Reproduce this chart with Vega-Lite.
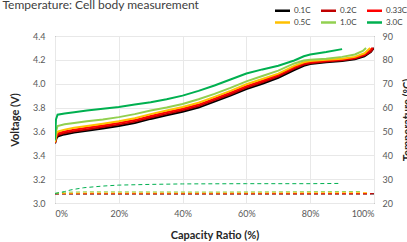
{
  "$schema": "https://vega.github.io/schema/vega-lite/v6.json",
  "width": 319,
  "height": 167,
  "autosize": "none",
  "padding": {"left": 55, "top": 36, "right": 33, "bottom": 39},
  "config": {
    "font": "Lato",
    "view": {"stroke": "#404040", "strokeWidth": 1},
    "axis": {"labelFont": "Lato", "labelFontSize": 9, "labelColor": "#595959", "titleFont": "Lato", "titleFontSize": 11, "titleFontWeight": "bold", "titleColor": "#262626", "ticks": false, "domain": false, "gridColor": "#e8e8e8"}
  },
  "datasets": {
    "volt": [
      {"r":"0.1C","c":0,"v":3.50},{"r":"0.1C","c":0.5,"v":3.545},{"r":"0.1C","c":1,"v":3.56},{"r":"0.1C","c":3,"v":3.575},{"r":"0.1C","c":6,"v":3.59},{"r":"0.1C","c":10,"v":3.605},{"r":"0.1C","c":15,"v":3.625},{"r":"0.1C","c":20,"v":3.645},{"r":"0.1C","c":25,"v":3.67},{"r":"0.1C","c":30,"v":3.705},{"r":"0.1C","c":35,"v":3.735},{"r":"0.1C","c":40,"v":3.765},{"r":"0.1C","c":45,"v":3.80},{"r":"0.1C","c":50,"v":3.85},{"r":"0.1C","c":55,"v":3.90},{"r":"0.1C","c":60,"v":3.955},{"r":"0.1C","c":65,"v":4.00},{"r":"0.1C","c":70,"v":4.05},{"r":"0.1C","c":75,"v":4.115},{"r":"0.1C","c":78,"v":4.15},{"r":"0.1C","c":80,"v":4.165},{"r":"0.1C","c":85,"v":4.18},{"r":"0.1C","c":90,"v":4.19},{"r":"0.1C","c":94,"v":4.205},{"r":"0.1C","c":97,"v":4.23},{"r":"0.1C","c":99,"v":4.265},{"r":"0.1C","c":100,"v":4.30},
      {"r":"0.2C","c":0,"v":3.502},{"r":"0.2C","c":0.5,"v":3.557},{"r":"0.2C","c":1,"v":3.572},{"r":"0.2C","c":3,"v":3.587},{"r":"0.2C","c":6,"v":3.602},{"r":"0.2C","c":10,"v":3.617},{"r":"0.2C","c":15,"v":3.637},{"r":"0.2C","c":20,"v":3.657},{"r":"0.2C","c":25,"v":3.682},{"r":"0.2C","c":30,"v":3.717},{"r":"0.2C","c":35,"v":3.747},{"r":"0.2C","c":40,"v":3.777},{"r":"0.2C","c":45,"v":3.812},{"r":"0.2C","c":50,"v":3.862},{"r":"0.2C","c":55,"v":3.912},{"r":"0.2C","c":60,"v":3.967},{"r":"0.2C","c":65,"v":4.012},{"r":"0.2C","c":70,"v":4.062},{"r":"0.2C","c":75,"v":4.127},{"r":"0.2C","c":78,"v":4.16},{"r":"0.2C","c":80,"v":4.172},{"r":"0.2C","c":85,"v":4.187},{"r":"0.2C","c":90,"v":4.197},{"r":"0.2C","c":94,"v":4.212},{"r":"0.2C","c":97,"v":4.238},{"r":"0.2C","c":99,"v":4.27},{"r":"0.2C","c":99.8,"v":4.30},
      {"r":"0.33C","c":0,"v":3.505},{"r":"0.33C","c":0.5,"v":3.57},{"r":"0.33C","c":1,"v":3.585},{"r":"0.33C","c":3,"v":3.60},{"r":"0.33C","c":6,"v":3.615},{"r":"0.33C","c":10,"v":3.63},{"r":"0.33C","c":15,"v":3.65},{"r":"0.33C","c":20,"v":3.67},{"r":"0.33C","c":25,"v":3.695},{"r":"0.33C","c":30,"v":3.73},{"r":"0.33C","c":35,"v":3.76},{"r":"0.33C","c":40,"v":3.79},{"r":"0.33C","c":45,"v":3.825},{"r":"0.33C","c":50,"v":3.875},{"r":"0.33C","c":55,"v":3.925},{"r":"0.33C","c":60,"v":3.98},{"r":"0.33C","c":65,"v":4.025},{"r":"0.33C","c":70,"v":4.075},{"r":"0.33C","c":75,"v":4.14},{"r":"0.33C","c":78,"v":4.17},{"r":"0.33C","c":80,"v":4.18},{"r":"0.33C","c":85,"v":4.193},{"r":"0.33C","c":90,"v":4.203},{"r":"0.33C","c":94,"v":4.218},{"r":"0.33C","c":97,"v":4.245},{"r":"0.33C","c":99.5,"v":4.30},
      {"r":"0.5C","c":0,"v":3.51},{"r":"0.5C","c":0.5,"v":3.585},{"r":"0.5C","c":1,"v":3.60},{"r":"0.5C","c":3,"v":3.615},{"r":"0.5C","c":6,"v":3.63},{"r":"0.5C","c":10,"v":3.645},{"r":"0.5C","c":15,"v":3.665},{"r":"0.5C","c":20,"v":3.685},{"r":"0.5C","c":25,"v":3.71},{"r":"0.5C","c":30,"v":3.745},{"r":"0.5C","c":35,"v":3.775},{"r":"0.5C","c":40,"v":3.805},{"r":"0.5C","c":45,"v":3.84},{"r":"0.5C","c":50,"v":3.89},{"r":"0.5C","c":55,"v":3.94},{"r":"0.5C","c":60,"v":3.995},{"r":"0.5C","c":65,"v":4.04},{"r":"0.5C","c":70,"v":4.085},{"r":"0.5C","c":75,"v":4.15},{"r":"0.5C","c":78,"v":4.18},{"r":"0.5C","c":80,"v":4.19},{"r":"0.5C","c":85,"v":4.20},{"r":"0.5C","c":90,"v":4.21},{"r":"0.5C","c":94,"v":4.225},{"r":"0.5C","c":97,"v":4.255},{"r":"0.5C","c":98.8,"v":4.30},
      {"r":"1.0C","c":0,"v":3.52},{"r":"1.0C","c":0.3,"v":3.60},{"r":"1.0C","c":0.8,"v":3.645},{"r":"1.0C","c":3,"v":3.66},{"r":"1.0C","c":6,"v":3.67},{"r":"1.0C","c":10,"v":3.685},{"r":"1.0C","c":15,"v":3.70},{"r":"1.0C","c":20,"v":3.72},{"r":"1.0C","c":25,"v":3.745},{"r":"1.0C","c":30,"v":3.775},{"r":"1.0C","c":35,"v":3.80},{"r":"1.0C","c":40,"v":3.83},{"r":"1.0C","c":45,"v":3.87},{"r":"1.0C","c":50,"v":3.915},{"r":"1.0C","c":55,"v":3.965},{"r":"1.0C","c":60,"v":4.02},{"r":"1.0C","c":65,"v":4.065},{"r":"1.0C","c":70,"v":4.11},{"r":"1.0C","c":75,"v":4.17},{"r":"1.0C","c":78,"v":4.195},{"r":"1.0C","c":80,"v":4.20},{"r":"1.0C","c":85,"v":4.21},{"r":"1.0C","c":90,"v":4.225},{"r":"1.0C","c":94,"v":4.245},{"r":"1.0C","c":96.5,"v":4.275},{"r":"1.0C","c":97.5,"v":4.30},
      {"r":"3.0C","c":0,"v":3.53},{"r":"3.0C","c":0.3,"v":3.70},{"r":"3.0C","c":0.8,"v":3.74},{"r":"3.0C","c":3,"v":3.75},{"r":"3.0C","c":6,"v":3.76},{"r":"3.0C","c":10,"v":3.775},{"r":"3.0C","c":15,"v":3.79},{"r":"3.0C","c":20,"v":3.805},{"r":"3.0C","c":25,"v":3.825},{"r":"3.0C","c":30,"v":3.845},{"r":"3.0C","c":35,"v":3.87},{"r":"3.0C","c":40,"v":3.90},{"r":"3.0C","c":45,"v":3.94},{"r":"3.0C","c":50,"v":3.985},{"r":"3.0C","c":55,"v":4.035},{"r":"3.0C","c":60,"v":4.085},{"r":"3.0C","c":65,"v":4.12},{"r":"3.0C","c":70,"v":4.15},{"r":"3.0C","c":75,"v":4.195},{"r":"3.0C","c":78,"v":4.23},{"r":"3.0C","c":80,"v":4.245},{"r":"3.0C","c":85,"v":4.265},{"r":"3.0C","c":90,"v":4.29}
    ],
    "temp": [
      {"r":"0.1C","c":0,"t":23.8},{"r":"0.1C","c":50,"t":23.8},{"r":"0.1C","c":100,"t":23.8},
      {"r":"0.2C","c":0,"t":23.9},{"r":"0.2C","c":50,"t":23.9},{"r":"0.2C","c":100,"t":23.9},
      {"r":"0.33C","c":0,"t":23.9},{"r":"0.33C","c":50,"t":23.9},{"r":"0.33C","c":99,"t":23.9},
      {"r":"0.5C","c":0,"t":24.0},{"r":"0.5C","c":10,"t":24.2},{"r":"0.5C","c":50,"t":24.2},{"r":"0.5C","c":98,"t":24.3},
      {"r":"1.0C","c":0,"t":24.0},{"r":"1.0C","c":3,"t":24.5},{"r":"1.0C","c":10,"t":24.7},{"r":"1.0C","c":50,"t":24.6},{"r":"1.0C","c":90,"t":24.8},{"r":"1.0C","c":96,"t":24.8},
      {"r":"3.0C","c":0,"t":24.0},{"r":"3.0C","c":3,"t":24.8},{"r":"3.0C","c":5,"t":25.5},{"r":"3.0C","c":9,"t":26.4},{"r":"3.0C","c":15,"t":27.1},{"r":"3.0C","c":20,"t":27.5},{"r":"3.0C","c":30,"t":27.8},{"r":"3.0C","c":40,"t":28.0},{"r":"3.0C","c":60,"t":28.1},{"r":"3.0C","c":80,"t":28.1},{"r":"3.0C","c":89,"t":28.2}
    ]
  },
  "layer": [
    {
      "data": {"name": "volt"},
      "mark": {"type": "line", "strokeWidth": 2, "clip": true},
      "encoding": {
        "x": {"field": "c", "type": "quantitative", "scale": {"domain": [0, 100], "nice": false},
              "axis": {"values": [0, 20, 40, 60, 80, 100], "labelExpr": "datum.value + '%'", "title": "Capacity Ratio (%)", "labelPadding": 6, "titlePadding": 11, "grid": true}},
        "y": {"field": "v", "type": "quantitative", "scale": {"domain": [3.0, 4.4], "nice": false, "zero": false},
              "axis": {"values": [3.0, 3.2, 3.4, 3.6, 3.8, 4.0, 4.2, 4.4], "format": ".1f", "title": "Voltage (V)", "labelPadding": 10, "titlePadding": 12, "grid": true}},
        "color": {"field": "r", "type": "nominal",
                  "scale": {"domain": ["0.1C", "0.2C", "0.33C", "0.5C", "1.0C", "3.0C"], "range": ["#000000", "#C00000", "#FF0000", "#FFC000", "#92D050", "#00B050"]},
                  "legend": {"title": null, "orient": "none", "legendX": 221, "legendY": -32, "columns": 3, "direction": "horizontal", "symbolType": "M-1.5,0H1.5", "symbolSize": 100, "symbolStrokeWidth": 2.5, "labelFontSize": 8, "labelColor": "#404040", "labelOffset": 5, "columnPadding": 5, "rowPadding": 0}}
      }
    },
    {
      "data": {"name": "temp"},
      "mark": {"type": "line", "strokeWidth": 1, "strokeDash": [4, 3], "clip": true},
      "encoding": {
        "x": {"field": "c", "type": "quantitative",
              "axis": {"orient": "top", "labels": false, "grid": false, "ticks": false, "domain": false, "title": "Temperature: Cell body measurement", "titleX": -53, "titleY": -28, "titleAnchor": "start", "titleAlign": "left", "titleBaseline": "alphabetic", "titleFontWeight": "normal", "titleFontSize": 12, "titleColor": "#404040"}},
        "y": {"field": "t", "type": "quantitative", "scale": {"domain": [20, 90], "nice": false, "zero": false},
              "axis": {"orient": "right", "values": [20, 30, 40, 50, 60, 70, 80, 90], "title": "Temperature (ºC)", "titleAngle": 270, "labelPadding": 8, "titlePadding": 20, "grid": false}},
        "color": {"field": "r", "type": "nominal"}
      }
    }
  ],
  "resolve": {"scale": {"y": "independent"}, "axis": {"x": "independent"}}
}
